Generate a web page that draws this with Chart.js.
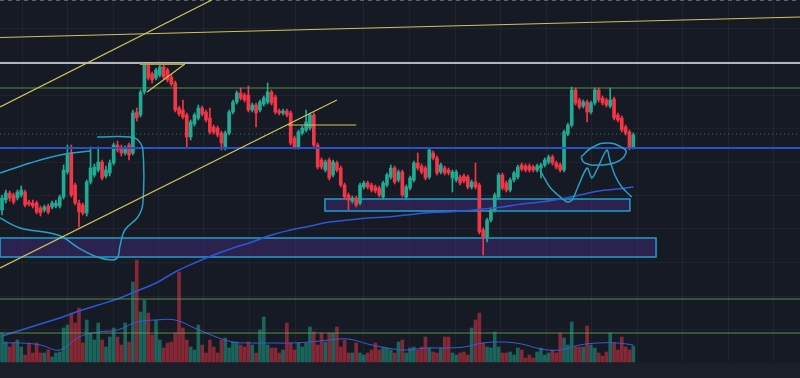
<!DOCTYPE html>
<html>
<head>
<meta charset="utf-8">
<script src="https://cdn.jsdelivr.net/npm/chart.js@4.4.0/dist/chart.umd.min.js"></script>
<style>
html, body { margin: 0; padding: 0; background: #161a25; }
canvas { display: block; }
</style>
</head>
<body>
<canvas id="myChart" width="800" height="378"></canvas>
<script>
// candles, left to right (price units)
var open = [190,200,207,205,202,205,208,198,197,197,192,190,194,193,194,194,203,228,247,215,197,195,187,218,225,230,238,224,227,237,
  255,253,247,255,247,288,285,308,335,326,322,325,333,330,323,317,292,290,285,263,276,282,292,288,282,273,272,267,253,267,
  288,298,307,305,305,290,295,290,296,298,308,303,289,287,289,287,262,253,267,270,272,285,255,240,230,240,225,237,232,215,
  205,199,202,197,213,217,215,213,212,203,215,223,232,220,228,203,212,220,237,234,232,223,247,242,228,232,230,222,220,223,
  224,223,213,218,215,170,163,180,190,203,225,217,210,220,223,235,234,234,233,230,232,235,238,243,237,235,230,266,275,310,
  300,294,298,288,297,310,302,300,294,301,285,282,273,268,253];
var high = [205,210,209,207,210,214,210,200,200,199,194,195,196,199,200,205,235,255,255,217,200,197,220,253,236,253,240,234,240,257,
  259,255,254,257,290,292,310,337,337,328,332,338,336,332,325,319,294,300,287,280,287,295,294,290,292,275,274,269,269,290,
  300,309,312,307,314,297,297,300,304,317,310,305,291,291,291,289,264,270,274,290,287,287,257,242,240,242,240,239,234,217,
  207,204,204,217,219,219,217,215,214,219,227,235,234,230,230,215,224,239,247,236,234,252,249,244,237,234,232,230,230,225,
  226,225,220,237,217,172,182,192,207,227,227,219,222,229,235,237,236,236,235,236,237,242,245,245,239,237,270,277,313,312,
  302,300,300,299,312,312,304,302,312,303,287,284,275,270,267];
var low = [185,197,199,196,200,203,193,194,192,186,184,188,186,191,192,192,201,226,203,195,173,185,184,216,223,228,220,222,224,235,
  248,244,245,240,245,279,283,306,320,317,320,323,321,318,314,288,284,281,253,260,274,280,284,278,266,266,263,250,250,265,
  286,296,300,298,288,288,273,288,294,296,295,286,285,285,283,255,251,251,265,268,270,253,231,231,228,220,223,228,213,201,
  190,197,193,195,211,211,208,207,203,201,213,221,216,218,203,201,210,218,230,226,220,221,240,225,226,225,225,208,218,215,
  217,211,211,211,166,145,158,178,188,201,210,208,208,218,221,229,228,228,228,228,222,233,236,235,231,228,228,264,273,295,
  291,292,278,286,295,298,295,293,292,280,278,268,265,250,251];
var close = [202,207,202,198,208,210,195,196,194,188,187,193,188,197,197,203,230,245,205,197,188,187,218,232,233,238,222,230,237,255,
  250,247,252,245,287,282,308,335,322,320,330,333,323,320,316,290,286,283,263,278,285,292,286,280,268,268,265,257,267,288,
  298,307,302,300,290,295,287,298,302,308,297,288,287,289,285,257,253,268,272,278,285,255,233,233,238,222,238,230,215,203,
  200,202,195,215,217,213,210,209,205,217,225,232,218,228,205,213,222,237,232,228,222,250,242,227,235,227,227,228,228,217,
  219,213,218,213,168,163,180,190,205,225,212,210,220,227,233,231,230,230,230,234,235,240,243,237,233,230,268,275,310,297,
  293,298,288,297,310,300,297,295,300,282,280,270,267,253,265];
var volume = [29,20,15,19,22,15,7,19,9,19,9,9,12,5,9,10,34,37,49,39,54,19,42,29,22,39,22,15,25,34,
  25,17,39,20,80,102,50,62,49,27,42,22,14,19,20,29,90,34,22,15,12,37,17,9,22,15,9,22,24,14,
  20,20,17,15,20,17,9,32,45,17,14,14,9,12,39,19,12,19,15,19,35,30,17,29,20,29,29,35,15,22,
  9,9,19,9,7,9,12,19,12,15,14,12,9,20,22,9,14,15,12,15,25,14,10,9,14,25,25,9,7,9,
  10,7,34,42,49,19,15,14,30,15,9,9,10,7,14,12,4,7,4,10,14,7,9,12,9,29,24,17,40,15,
  15,15,36,17,14,9,6,10,29,19,12,25,15,12,16];

var maIndex = [0,5,10,15,20,25,30,35,40,45,50,55,60,65,70,75,80,85,90,95,100,105,110,115,120,125,130,135,140,145,150,155,160,164];
var priceMA = [64,70,76,82,89,95,101,109,117,128,137,145,152,158,165,170,174,178,180,182,183,185,187,188,189,191,193,196,198,201,205,209,211,213];
var volumeMA = [19,19,17,12,25,30,32,40,42,42,34,26,20,19,19,19,20,22,23,18,14,12,14,14,15,19,20,18,13,12,17,19,19,17];

// horizontal price levels
var levels = [399.5, 337, 312, 266, 252, 101, 67];

// trend lines [x1, p1, x2, p2]
var trendLines = [
  [-0.5, 293, 54.5, 400],
  [-0.5, 362.5, 207.3, 383],
  [-0.5, 132, 87, 300],
  [37.7, 308, 47.5, 336],
  [35.8, 336, 47.5, 336],
  [74.3, 275, 92, 275]
];

// zones [x1, p1, x2, p2]
var zones = [
  [83.9, 201, 163.1, 189],
  [-0.5, 162, 169.9, 143]
];

// hand drawn strokes
var arcX = [-0.5, 7.3, 15.1, 22.9];
var arcP = [227, 237, 245, 249];
var loopX = [24.7, 33.2, 35.3, 36.6, 36.6, 35.3, 31.9, 30.6, 30.1, 28.6, 24.7, 19.5, 15.8, 12.5, 4.7, -0.5];
var loopP = [263, 263, 260, 250, 197, 183, 170, 153, 143, 140, 143, 153, 163, 167, 172, 182];
var mX = [139.7, 142.3, 144.4, 146.8, 148.1, 149.6, 152, 153.2, 154.5, 157.1, 157.9, 159.2, 161, 163.6];
var mP = [230, 213, 205, 198, 200, 213, 232, 222, 230, 250, 240, 225, 213, 203];
var ringX = [150.4, 153.5, 157.4, 161.3, 162.1, 159.7, 155.3, 151.4, 150.4];
var ringP = [243, 253, 257, 252, 247, 238, 235, 237, 243];

// faint time / price grid
var gridTimes = [5.2, 16.9, 28.8, 40.5, 52.2, 64.2, 76.1, 93.8, 105.7, 117.7, 129.4, 141.3, 153, 165, 176.6, 188.6, 200.3];
var gridPrices = [372.5, 339, 305.5, 272, 238.5, 205, 171.5, 138, 104.5, 71];

var xMin = -0.52, xMax = 207.3;
var upColor = '#22ab94', downColor = '#f23645';

var wickData = [], bodyData = [], volData = [], colors = [], volColors = [];
for (var i = 0; i < close.length; i++) {
  wickData.push({x: i, y: [low[i], high[i]]});
  bodyData.push({x: i, y: [open[i], close[i]]});
  volData.push({x: i, y: volume[i]});
  var up = close[i] >= open[i];
  colors.push(up ? upColor : downColor);
  volColors.push(up ? 'rgba(34,171,148,0.5)' : 'rgba(242,54,69,0.5)');
}

function pts(xs, ps) {
  return xs.map(function(x, k) { return {x: x, y: ps[k]}; });
}
function lineSet(data, color, width, opts) {
  var d = {
    type: 'line',
    data: data,
    borderColor: color,
    borderWidth: width,
    pointRadius: 0,
    fill: false,
    tension: 0,
    order: 0,
    yAxisID: 'y'
  };
  for (var k in (opts || {})) d[k] = opts[k];
  return d;
}

var levelStyle = [
  {color: '#5d606b', width: 1, dash: [4, 4]},
  {color: '#b2b5be', width: 2},
  {color: 'rgba(100,170,80,0.8)', width: 1},
  {color: 'rgba(60,150,140,0.7)', width: 1, dash: [1, 3]},
  {color: '#2852c4', width: 2},
  {color: 'rgba(100,170,80,0.8)', width: 1},
  {color: 'rgba(100,170,80,0.8)', width: 1}
];

var datasets = [];
levels.forEach(function(l, k) {
  var s = levelStyle[k];
  datasets.push(lineSet([{x: xMin, y: l}, {x: xMax, y: l}], s.color, s.width, {borderDash: s.dash || [], order: 1}));
});
trendLines.forEach(function(t, k) {
  datasets.push(lineSet([{x: t[0], y: t[1]}, {x: t[2], y: t[3]}], k == 4 ? '#a8a050' : '#cfc45a', k == 4 ? 2 : 1.2));
});
datasets.push(lineSet(pts(arcX, arcP), '#2a9fc0', 1.5, {tension: 0.4}));
datasets.push(lineSet(pts(loopX, loopP), '#2a9fc0', 1.5, {tension: 0.4}));
datasets.push(lineSet(pts(mX, mP), '#2a9fc0', 1.5, {tension: 0.3}));
datasets.push(lineSet(pts(ringX, ringP), '#2a9fc0', 1.5, {tension: 0.5}));
datasets.push(lineSet(pts(maIndex, priceMA), '#2e57d6', 1.5, {tension: 0.4, order: 1}));
datasets.push(lineSet(pts(maIndex, volumeMA), '#3a5bd9', 1, {tension: 0.4, order: 4, yAxisID: 'yv'}));

datasets.push({
  type: 'bar', data: bodyData, backgroundColor: colors, barThickness: 3,
  grouped: false, borderWidth: 0, order: 2, yAxisID: 'y'
});
datasets.push({
  type: 'bar', data: wickData, backgroundColor: colors, barThickness: 1,
  grouped: false, borderWidth: 0, order: 3, yAxisID: 'y'
});
datasets.push({
  type: 'bar', data: volData, backgroundColor: volColors, barThickness: 3,
  grouped: false, borderWidth: 0, order: 5, yAxisID: 'yv'
});

const backdrop = {
  id: 'backdrop',
  beforeDraw(chart) {
    const {ctx, chartArea: {left, top, right, bottom}, scales: {x, y, yv}} = chart;
    ctx.save();
    ctx.fillStyle = '#161a25';
    ctx.fillRect(0, 0, chart.width, chart.height);
    var base = yv.getPixelForValue(0);
    ctx.fillStyle = '#1b1f2a';
    ctx.fillRect(left, base + 1, right - left, bottom - base);
    ctx.strokeStyle = 'rgba(255,255,255,0.045)';
    ctx.lineWidth = 1;
    gridTimes.forEach(function(t) {
      var px = Math.round(x.getPixelForValue(t)) + 0.5;
      ctx.beginPath(); ctx.moveTo(px, top); ctx.lineTo(px, base); ctx.stroke();
    });
    gridPrices.forEach(function(p) {
      var py = Math.round(y.getPixelForValue(p)) + 0.5;
      ctx.beginPath(); ctx.moveTo(left, py); ctx.lineTo(right, py); ctx.stroke();
    });
    ctx.restore();
  },
  beforeDatasetsDraw(chart) {
    const {ctx, scales: {x, y}} = chart;
    ctx.save();
    zones.forEach(function(z) {
      var x1 = x.getPixelForValue(z[0]), x2 = x.getPixelForValue(z[2]);
      var y1 = y.getPixelForValue(z[1]), y2 = y.getPixelForValue(z[3]);
      ctx.fillStyle = 'rgba(83,52,156,0.35)';
      ctx.fillRect(x1, y1, x2 - x1, y2 - y1);
      ctx.strokeStyle = '#1f9fd0';
      ctx.lineWidth = 1.5;
      ctx.strokeRect(x1, y1, x2 - x1, y2 - y1);
    });
    ctx.restore();
  }
};

var myChart = new Chart(document.getElementById('myChart'), {
  type: 'bar',
  data: { datasets: datasets },
  options: {
    responsive: false,
    animation: false,
    devicePixelRatio: 1,
    layout: { padding: 0 },
    plugins: {
      legend: { display: false },
      tooltip: { enabled: false }
    },
    scales: {
      x: { type: 'linear', min: xMin, max: xMax, offset: false, display: false },
      y: { type: 'linear', min: 22, max: 400, display: false },
      yv: { type: 'linear', min: -16, max: 362, display: false }
    }
  },
  plugins: [backdrop]
});
</script>
</body>
</html>
